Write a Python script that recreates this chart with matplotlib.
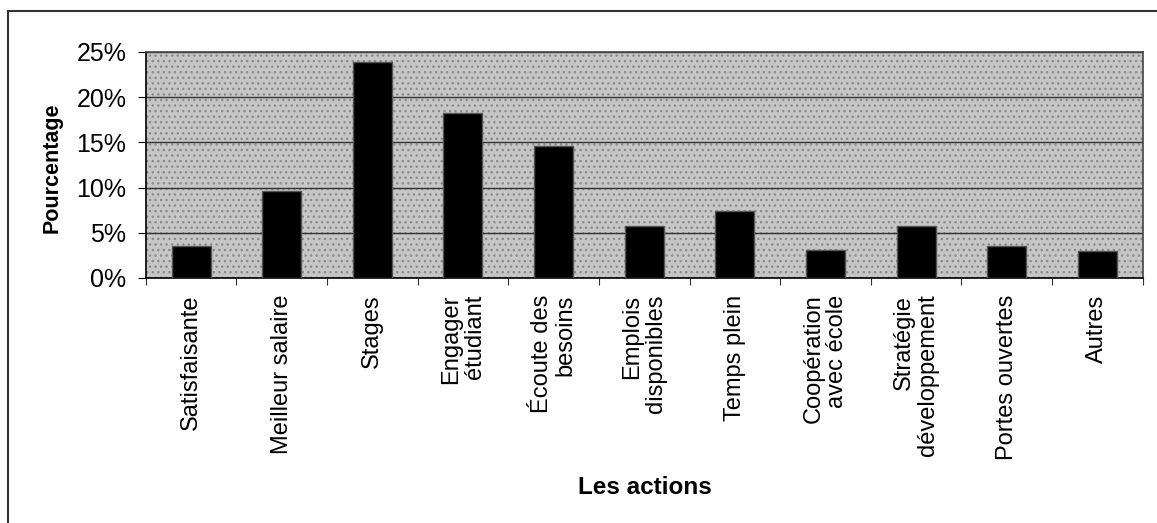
import matplotlib.pyplot as plt
import matplotlib.patches as patches
from matplotlib.lines import Line2D
from matplotlib.ticker import FuncFormatter, MultipleLocator

plt.rcParams['font.family'] = ['Liberation Sans', 'DejaVu Sans']

# Données
actions = ['Satisfaisante', 'Meilleur salaire', 'Stages', 'Engager\nétudiant',
           'Écoute des\nbesoins', 'Emplois\ndisponibles', 'Temps plein',
           'Coopération\navec école', 'Stratégie\ndéveloppement', 'Portes ouvertes',
           'Autres']
pourcentages = [3.5, 9.6, 23.9, 18.3, 14.6, 5.7, 7.4, 3.1, 5.7, 3.5, 3.0]

fig = plt.figure(figsize=(11.57, 5.23), dpi=100)
fig.patch.set_facecolor('white')
ax = fig.add_axes([0.126, 0.4685, 0.8616, 0.4321])

# fond gris pointillé
ax.set_facecolor('#c6c6c6')
bg = patches.Rectangle((0, 0), 1, 1, transform=ax.transAxes, facecolor='none',
                       edgecolor='#8c8c8c', hatch='...', linewidth=0, zorder=0)
ax.add_patch(bg)

x = list(range(len(actions)))
ax.bar(x, pourcentages, width=0.43, color='black', edgecolor='#555555',
       linewidth=1, zorder=3)

ax.set_xlim(-0.5, len(actions) - 0.5)
ax.set_ylim(0, 25)
ax.yaxis.set_major_locator(MultipleLocator(5))
ax.yaxis.set_major_formatter(FuncFormatter(lambda v, p: f'{v:.0f}%'))
ax.grid(axis='y', color='#333333', linewidth=1, zorder=1)
ax.set_axisbelow(True)

# ticks aux limites des catégories
ax.set_xticks([i - 0.5 for i in range(len(actions) + 1)], minor=False)
ax.set_xticklabels([])
ax.set_xticks(x, minor=True)
ax.set_xticklabels(actions, minor=True, rotation=90, ha='center', va='top',
                   multialignment='right', fontsize=17, linespacing=1.1)
ax.tick_params(axis='x', which='minor', length=0, pad=12)
ax.tick_params(axis='x', which='major', length=5, direction='out', color='#333333')
ax.tick_params(axis='y', length=6, direction='out', labelsize=18, pad=8)

for s in ['left', 'bottom']:
    ax.spines[s].set_color('black')
    ax.spines[s].set_linewidth(1.2)
for s in ['top', 'right']:
    ax.spines[s].set_color('#444444')
    ax.spines[s].set_linewidth(1.2)

fig.text(52 / 1157, 1 - 168 / 523, 'Pourcentage', fontsize=15.5, fontweight='bold',
         rotation=90, ha='center', va='center')
fig.text(645 / 1157, 1 - 487 / 523, 'Les actions', fontsize=17.5, fontweight='bold',
         ha='center', va='center')

# cadre extérieur (coupé à droite et en bas)
fig.add_artist(Line2D([8 / 1157, 1.0], [1 - 11 / 523, 1 - 11 / 523],
                      color='#333333', linewidth=1.5))
fig.add_artist(Line2D([8 / 1157, 8 / 1157], [0.0, 1 - 11 / 523],
                      color='#333333', linewidth=1.5))

fig.savefig('out.png', dpi=100)
